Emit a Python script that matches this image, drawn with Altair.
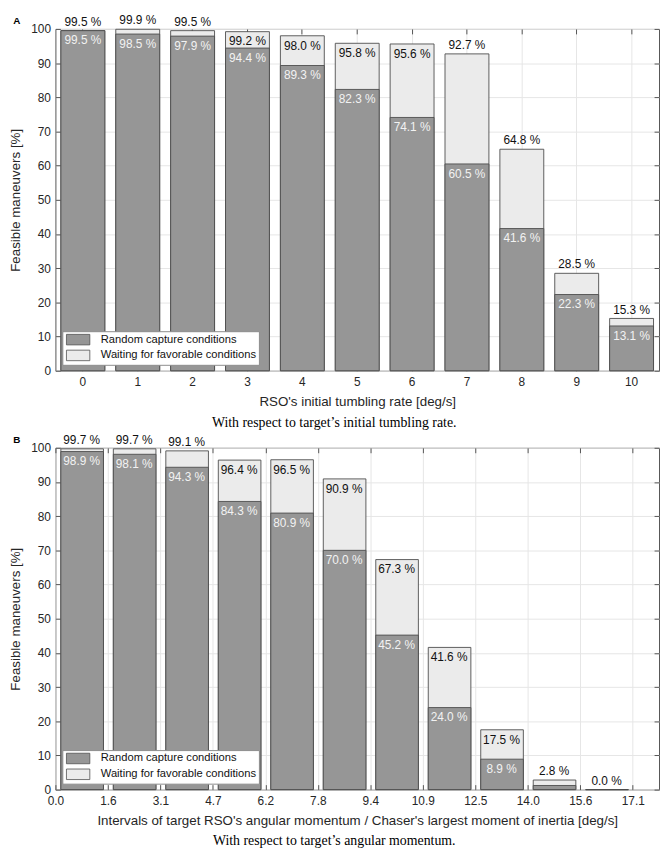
import altair as alt
import pandas as pd

SERIES = ["Random capture conditions", "Waiting for favorable conditions"]
SERIES_FILL = ["#969696", "#ebebeb"]

# Panel A: initial tumbling rate [deg/s]
rate_a = [0, 1, 2, 3, 4, 5, 6, 7, 8, 9, 10]
random_a = [99.5, 98.5, 97.9, 94.4, 89.3, 82.3, 74.1, 60.5, 41.6, 22.3, 13.1]
total_a = [99.5, 99.9, 99.5, 99.2, 98.0, 95.8, 95.6, 92.7, 64.8, 28.5, 15.3]
total_inside_a = [False, False, False, True, True, True, True, False, False, False, False]

# Panel B: angular momentum intervals
edges_b = ["0.0", "1.6", "3.1", "4.7", "6.2", "7.8", "9.4", "10.9", "12.5", "14.0", "15.6", "17.1"]
interval_b = [0, 1, 2, 3, 4, 5, 6, 7, 8, 9, 10]
random_b = [98.9, 98.1, 94.3, 84.3, 80.9, 70.0, 45.2, 24.0, 8.9, 1.2, 0.0]
total_b = [99.7, 99.7, 99.1, 96.4, 96.5, 90.9, 67.3, 41.6, 17.5, 2.8, 0.0]
total_inside_b = [False, False, False, True, True, True, True, True, True, False, False]

y_ticks = list(range(0, 101, 10))

FONT = "Liberation Sans"
SERIF = "Liberation Serif"
INK = "#262626"
TICK = "#555555"
W, H = 611, 346


def long_table(keys, key_name, random, total):
    rows = []
    for k, t in zip(keys, total):
        rows.append({key_name: k, "series": SERIES[1], "value": t})
    for k, r in zip(keys, random):
        rows.append({key_name: k, "series": SERIES[0], "value": r})
    return pd.DataFrame(rows)


def wide_table(keys, key_name, random, total, inside):
    return pd.DataFrame({key_name: keys, "random": random, "total": total, "inside": inside})


y_scale = alt.Scale(domain=[0, 100], nice=False, zero=True)

y_axis_main = alt.Axis(
    values=y_ticks, title="Feasible maneuvers [%]", orient="left", offset=-5,
    tickSize=5, tickColor=TICK, domain=False, grid=True, gridColor="#e6e6e6",
    labelPadding=5, titlePadding=8, labelFont=FONT, labelFontSize=12,
    labelColor=INK, titleFont=FONT, titleFontSize=13.5, titleFontWeight="normal",
    titleColor=INK,
)
y_axis_right = alt.Axis(
    values=y_ticks, orient="right", offset=-5, tickSize=5, tickColor=TICK,
    labels=False, domain=False, grid=False, title=None, minExtent=0, maxExtent=0,
)


def legend():
    return alt.Legend(
        title=None, orient="none", legendX=7, legendY=H - 40, padding=2,
        strokeColor="#8c8c8c", fillColor="white",
        symbolType="M-2,-0.9L2,-0.9L2,0.9L-2,0.9Z", symbolSize=140,
        symbolStrokeColor="#505050", symbolStrokeWidth=0.8, symbolOpacity=1,
        symbolOffset=7.5, labelOffset=16.4, labelFont=FONT, labelFontSize=11.3,
        labelColor="#111111", rowPadding=1, cornerRadius=0,
    )


color_enc = alt.Color(
    "series:N", scale=alt.Scale(domain=SERIES, range=SERIES_FILL), legend=legend()
)


def caption(text):
    return alt.TitleParams(
        text=text, orient="bottom", anchor="middle", frame="bounds", font=SERIF,
        fontSize=14, fontWeight="normal", color="black", offset=8,
    )


def letter_layer(letter):
    return alt.Chart(pd.DataFrame({"letter": [letter]})).mark_text(
        font=FONT, fontSize=10, fontWeight="bold", align="center",
        baseline="middle", color="black",
    ).encode(text="letter:N", x=alt.value(-39), y=alt.value(-8))


def label_layers(base, x_enc):
    lab_rand = base.transform_filter("datum.random >= 5").transform_calculate(
        label="format(datum.random, '.1f') + ' %'"
    ).mark_text(font=FONT, fontSize=12, baseline="top", dy=5, color="#f2f2f2").encode(
        x=x_enc, y=alt.Y("random:Q", scale=y_scale, axis=None), text="label:N"
    )
    lab_in = base.transform_filter("datum.inside").transform_calculate(
        label="format(datum.total, '.1f') + ' %'"
    ).mark_text(font=FONT, fontSize=12, baseline="top", dy=5, color="#111111").encode(
        x=x_enc, y=alt.Y("total:Q", scale=y_scale, axis=None), text="label:N"
    )
    lab_out = base.transform_filter("!datum.inside").transform_calculate(
        label="format(datum.total, '.1f') + ' %'"
    ).mark_text(font=FONT, fontSize=12, baseline="bottom", dy=-2, color="#111111").encode(
        x=x_enc, y=alt.Y("total:Q", scale=y_scale, axis=None), text="label:N"
    )
    return [lab_rand, lab_in, lab_out]


# ---------------- Panel A ----------------
x_scale_a = alt.Scale(paddingInner=0.2, paddingOuter=0.1)
bars_a = alt.Chart(long_table(rate_a, "cat", random_a, total_a)).mark_bar(
    stroke="#4d4d4d", strokeWidth=0.9
).encode(
    x=alt.X("cat:O", scale=x_scale_a, axis=alt.Axis(
        title="RSO's initial tumbling rate [deg/s]", orient="bottom", offset=-5,
        tickSize=5, tickColor=TICK, domain=False, grid=True, gridColor="#e6e6e6",
        bandPosition=0.5, labelAngle=0, labelPadding=6, titlePadding=7,
        labelFont=FONT, labelFontSize=12, labelColor=INK, titleFont=FONT,
        titleFontSize=13.5, titleFontWeight="normal", titleColor=INK,
    )),
    y=alt.Y("value:Q", stack=None, scale=y_scale, axis=y_axis_main),
    color=color_enc,
)
base_a = alt.Chart(wide_table(rate_a, "cat", random_a, total_a, total_inside_a))
ghost_a = base_a.mark_point(opacity=0, size=1).encode(
    x=alt.X("cat:O", axis=alt.Axis(orient="top", offset=-5, tickSize=5, tickColor=TICK,
                                  labels=False, domain=False, grid=False, title=None,
                                  bandPosition=0.5, minExtent=0, maxExtent=0)),
    y=alt.Y("total:Q", scale=y_scale, axis=y_axis_right),
)
panel_a = alt.layer(
    bars_a, ghost_a, *label_layers(base_a, alt.X("cat:O", axis=None)), letter_layer("A")
).resolve_axis(x="independent", y="independent").properties(
    width=W, height=H, title=caption("With respect to target\u2019s initial tumbling rate.")
)

# ---------------- Panel B ----------------
label_expr_b = "[" + ",".join("'%s'" % e for e in edges_b) + "][datum.value]"
x_scale_b = alt.Scale(domain=[0, len(edges_b) - 0.5], nice=False, zero=False)
bars_b = alt.Chart(long_table(interval_b, "lo", random_b, total_b)).transform_calculate(
    hi="datum.lo + 1"
).mark_bar(stroke="#4d4d4d", strokeWidth=0.9, binSpacing=10).encode(
    x=alt.X("lo:Q", bin="binned", scale=x_scale_b, axis=alt.Axis(
        title="Intervals of target RSO's angular momentum / Chaser's largest moment of inertia  [deg/s]",
        orient="bottom", offset=-5, values=list(range(len(edges_b))), labelExpr=label_expr_b,
        tickSize=5, tickColor=TICK, domain=False, grid=True, gridColor="#e6e6e6",
        labelPadding=6, titlePadding=7, labelFont=FONT, labelFontSize=12,
        labelColor=INK, titleFont=FONT, titleFontSize=13.5, titleFontWeight="normal",
        titleColor=INK, labelFlush=False, labelOverlap=False,
    )),
    x2="hi:Q",
    y=alt.Y("value:Q", stack=None, scale=y_scale, axis=y_axis_main),
    color=color_enc,
)
base_b = alt.Chart(
    wide_table(interval_b, "lo", random_b, total_b, total_inside_b)
).transform_calculate(mid="datum.lo + 0.5")
ghost_b = base_b.mark_point(opacity=0, size=1).encode(
    x=alt.X("lo:Q", scale=x_scale_b, axis=alt.Axis(
        orient="top", offset=-5, tickSize=5, tickColor=TICK, values=list(range(len(edges_b))),
        labels=False, domain=False, grid=False, title=None, minExtent=0, maxExtent=0)),
    y=alt.Y("total:Q", scale=y_scale, axis=y_axis_right),
)
panel_b = alt.layer(
    bars_b, ghost_b, *label_layers(base_b, alt.X("mid:Q", axis=None)), letter_layer("B")
).resolve_axis(x="independent", y="independent").properties(
    width=W, height=H, title=caption("With respect to target\u2019s angular momentum.")
)

chart = alt.vconcat(panel_a, panel_b, spacing=3).resolve_scale(
    color="independent"
).configure_view(stroke="#555555", strokeWidth=1).properties(padding=0)

chart.save("out.html", embed_options={"renderer": "svg", "actions": False})
